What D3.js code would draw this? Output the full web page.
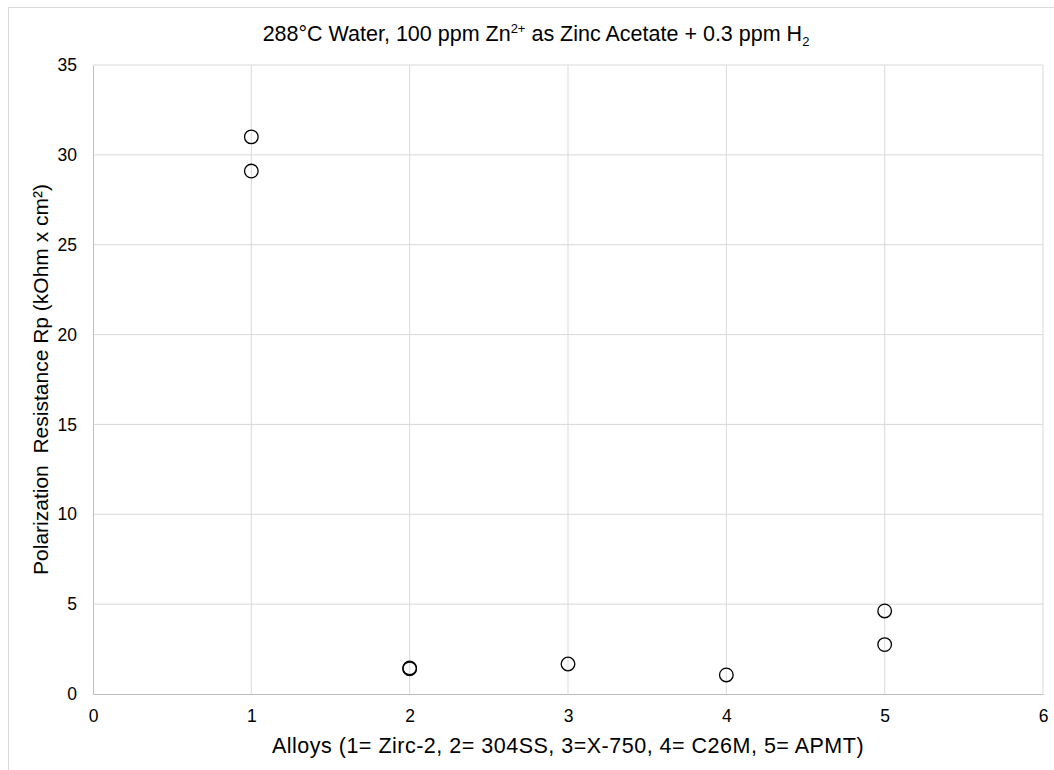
<!DOCTYPE html>
<html>
<head>
<meta charset="utf-8">
<script src="https://cdn.jsdelivr.net/npm/d3@7"></script>
<style>
  body { margin: 0; background: #fff; }
  svg { font-family: "Liberation Sans", Arial, sans-serif; }
</style>
</head>
<body>
<svg id="plotCanvas" width="1054" height="770"></svg>
<script>
// alloy number and measured Rp
var alloyX = [1, 1, 2, 2, 3, 4, 5, 5];
var rpValues = [31.0, 29.1, 1.45, 1.40, 1.67, 1.06, 4.62, 2.75];
var xTicks = [0, 1, 2, 3, 4, 5, 6];
var yTicks = [0, 5, 10, 15, 20, 25, 30, 35];

var plotLeft = 93, plotRight = 1043, plotTop = 65, plotBottom = 694;

var canvas = d3.select("#plotCanvas");

// outer chart border (runs past the window on right/bottom)
canvas.append("rect")
    .attr("x", 8.5).attr("y", 7.5)
    .attr("width", 1060).attr("height", 780)
    .attr("fill", "none")
    .attr("stroke", "#d9d9d9");

var x = d3.scaleLinear().domain([0, 6]).range([plotLeft, plotRight]);
var y = d3.scaleLinear().domain([0, 35]).range([plotBottom, plotTop]);

// gridlines
canvas.append("g").selectAll("line")
    .data(xTicks.slice(1))
    .enter().append("line")
    .attr("x1", function(d) { return x(d); })
    .attr("x2", function(d) { return x(d); })
    .attr("y1", plotTop).attr("y2", plotBottom)
    .attr("stroke", "#d9d9d9").attr("stroke-width", 1);

canvas.append("g").selectAll("line")
    .data(yTicks.slice(1))
    .enter().append("line")
    .attr("x1", plotLeft).attr("x2", plotRight)
    .attr("y1", function(d) { return y(d); })
    .attr("y2", function(d) { return y(d); })
    .attr("stroke", "#d9d9d9").attr("stroke-width", 1);

// axes
var xAxis = canvas.append("g")
    .attr("transform", "translate(0," + plotBottom + ")")
    .call(d3.axisBottom(x).tickValues(xTicks).tickFormat(d3.format("d")).tickSize(0).tickPadding(16));
var yAxis = canvas.append("g")
    .attr("transform", "translate(" + plotLeft + ",0)")
    .call(d3.axisLeft(y).tickValues(yTicks).tickFormat(d3.format("d")).tickSize(0).tickPadding(16));

[xAxis, yAxis].forEach(function(a) {
    a.attr("font-size", 17.5).attr("font-family", "Liberation Sans, Arial, sans-serif");
    a.select(".domain").attr("stroke", "#bfbfbf");
    a.selectAll("text").attr("fill", "#000");
});

// points
canvas.append("g").selectAll("circle")
    .data(rpValues)
    .enter().append("circle")
    .attr("cx", function(d, i) { return x(alloyX[i]); })
    .attr("cy", function(d) { return y(d); })
    .attr("r", 6.8)
    .attr("fill", "none")
    .attr("stroke", "#000")
    .attr("stroke-width", 1.3);

// title
var title = canvas.append("text")
    .attr("x", 536).attr("y", 41)
    .attr("text-anchor", "middle")
    .attr("font-size", "21.5px")
    .attr("fill", "#000");
title.append("tspan").text("288°C Water, 100 ppm Zn");
title.append("tspan").attr("font-size", "13px").attr("dy", "-8").text("2+");
title.append("tspan").attr("dy", "8").text(" as Zinc Acetate + 0.3 ppm H");
title.append("tspan").attr("font-size", "13px").attr("dy", "5").text("2");

// axis titles
canvas.append("text")
    .attr("x", (plotLeft + plotRight) / 2).attr("y", 753)
    .attr("text-anchor", "middle")
    .attr("font-size", "21.5px")
    .attr("letter-spacing", "0.5")
    .attr("fill", "#000")
    .text("Alloys (1= Zirc-2, 2= 304SS, 3=X-750, 4= C26M, 5= APMT)");

canvas.append("text")
    .attr("transform", "translate(48," + ((plotTop + plotBottom) / 2) + ") rotate(-90)")
    .attr("text-anchor", "middle")
    .attr("font-size", "21px")
    .attr("fill", "#000")
    .attr("xml:space", "preserve")
    .text("Polarization  Resistance Rp (kOhm x cm²)");
</script>
</body>
</html>
